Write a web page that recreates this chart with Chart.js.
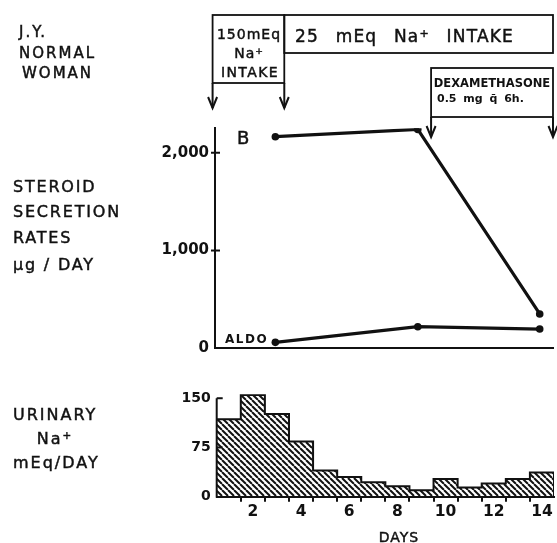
<!DOCTYPE html>
<html><head><meta charset="utf-8">
<script src="https://cdn.jsdelivr.net/npm/chart.js@4.4.1/dist/chart.umd.min.js"></script>
<style>
html,body{margin:0;padding:0;background:#fff;}
#wrap{position:relative;width:557px;height:543px;overflow:hidden;font-family:"DejaVu Sans",sans-serif;color:#111;}
canvas{position:absolute;left:0;}
.t{position:absolute;white-space:nowrap;line-height:1;transform:translateY(-50%);-webkit-text-stroke:0.45px #111;}
.c{transform:translate(-50%,-50%);}
sup{font-size:0.65em;vertical-align:0.45em;line-height:0;}
</style></head><body>
<div id="wrap">
<canvas id="c1" width="557" height="370" style="top:0"></canvas>
<canvas id="c2" width="557" height="173" style="top:370px"></canvas>

<div class="t" style="left:19px;top:32px;font-size:15px;letter-spacing:2px">J.Y.</div>
<div class="t" style="left:19px;top:53px;font-size:15px;letter-spacing:2px">NORMAL</div>
<div class="t" style="left:22px;top:73px;font-size:15px;letter-spacing:2px">WOMAN</div>

<div class="t c" style="left:249px;top:34px;font-size:14px;letter-spacing:1px">150mEq</div>
<div class="t c" style="left:249px;top:53px;font-size:14px;letter-spacing:1px">Na<sup>+</sup></div>
<div class="t c" style="left:250px;top:72px;font-size:14px;letter-spacing:1.4px">INTAKE</div>
<div class="t" style="left:295px;top:36px;font-size:17px;letter-spacing:1.2px;word-spacing:10px">25 mEq Na<sup>+</sup> INTAKE</div>
<div class="t c" style="left:492px;top:84px;font-size:11.5px;font-weight:bold;-webkit-text-stroke:0">DEXAMETHASONE</div>
<div class="t" style="left:437px;top:98px;font-size:11px;font-weight:bold;word-spacing:3px;-webkit-text-stroke:0">0.5 mg q&#772; 6h.</div>

<div class="t" style="left:237px;top:138px;font-size:18px">B</div>
<div class="t" style="left:225px;top:339px;font-size:12px;font-weight:bold;letter-spacing:1.5px;-webkit-text-stroke:0">ALDO</div>

<div class="t" style="left:13px;top:187px;font-size:16px;letter-spacing:1.8px">STEROID</div>
<div class="t" style="left:13px;top:212px;font-size:16px;letter-spacing:1.8px">SECRETION</div>
<div class="t" style="left:13px;top:238px;font-size:16px;letter-spacing:1.8px">RATES</div>
<div class="t" style="left:13px;top:265px;font-size:16px;letter-spacing:1.8px">μg / DAY</div>

<div class="t" style="left:13px;top:415px;font-size:16px;letter-spacing:2px">URINARY</div>
<div class="t c" style="left:55px;top:439px;font-size:16px;letter-spacing:2px">Na<sup>+</sup></div>
<div class="t" style="left:13px;top:463px;font-size:16px;letter-spacing:2px">mEq/DAY</div>

<div class="t c" style="left:399px;top:537px;font-size:14px;letter-spacing:1px">DAYS</div>
</div>
<script>
// ---- data ----
const steroidDays = [3, 8.9, 13.95];
const cortB = [2164, 2239, 351];
const aldo = [61, 221, 197];
const steroidTicks = [0, 1000, 2000];
const steroidTickLabels = ['0', '1,000', '2,000'];

const days = [1,2,3,4,5,6,7,8,9,10,11,12,13,14];
const urinaryNa = [118,155,126,84,40,30,22,16,10,27,14,20,27,37];
const urinaryTicks = [0, 75, 150];
const dayTickLabels = [2,4,6,8,10,12,14];

// annotation day positions (phase boundaries)
const intakeArrowDays = [0.4, 3.37];
const dexArrowDays = [9.45, 14.5];

const INK = '#111';
const FONT = '"DejaVu Sans", sans-serif';

function makeHatch() {
  const s = 6;
  const c = document.createElement('canvas');
  c.width = s; c.height = s;
  const g = c.getContext('2d');
  g.strokeStyle = INK; g.lineWidth = 2;
  for (const x0 of [-s, 0, s]) {
    g.beginPath(); g.moveTo(x0, 0); g.lineTo(x0 + s, s); g.stroke();
  }
  return g.createPattern(c, 'repeat');
}

function arrow(ctx, x, y0, y1) {
  ctx.beginPath(); ctx.moveTo(x, y0); ctx.lineTo(x, y1); ctx.stroke();
  ctx.beginPath(); ctx.moveTo(x - 4.5, y1 - 11); ctx.lineTo(x, y1); ctx.lineTo(x + 4.5, y1 - 11); ctx.stroke();
}

const annotations = {
  id: 'annotations',
  afterDraw(chart) {
    const ctx = chart.ctx, xs = chart.scales.x, ys = chart.scales.y;
    ctx.save();
    ctx.strokeStyle = INK; ctx.lineWidth = 1.8; ctx.lineCap = 'butt';
    const a = xs.getPixelForValue(intakeArrowDays[0]);
    const b = xs.getPixelForValue(intakeArrowDays[1]);
    const d0 = xs.getPixelForValue(dexArrowDays[0]);
    const d1 = xs.getPixelForValue(dexArrowDays[1]);
    ctx.strokeRect(a, 15, b - a, 68);
    ctx.strokeRect(b, 15, d1 - b, 38);
    ctx.strokeRect(d0, 68, d1 - d0, 49);
    ctx.lineWidth = 2;
    arrow(ctx, a, 83, 108);
    arrow(ctx, b, 83, 108);
    arrow(ctx, d0, 117, 137);
    arrow(ctx, d1, 117, 137);
    for (const v of steroidTicks.slice(1)) {
      const y = ys.getPixelForValue(v);
      ctx.beginPath(); ctx.moveTo(chart.chartArea.left - 4, y); ctx.lineTo(chart.chartArea.left + 5, y); ctx.stroke();
    }
    ctx.restore();
  }
};

const lowerAxis = {
  id: 'lowerAxis',
  afterDatasetsDraw(chart) {
    const ctx = chart.ctx, ys = chart.scales.y;
    const L = chart.chartArea.left;
    ctx.save();
    ctx.strokeStyle = INK; ctx.lineWidth = 2;
    ctx.beginPath(); ctx.moveTo(L, ys.getPixelForValue(0) + 1); ctx.lineTo(L, ys.getPixelForValue(150)); ctx.stroke();
    for (const v of urinaryTicks.slice(1)) {
      const y = ys.getPixelForValue(v);
      ctx.beginPath(); ctx.moveTo(L, y); ctx.lineTo(L + 6, y); ctx.stroke();
    }
    ctx.restore();
  }
};

new Chart(document.getElementById('c1'), {
  type: 'line',
  data: {
    datasets: [
      { label: 'B', data: steroidDays.map((d, i) => ({ x: d, y: cortB[i] })) },
      { label: 'ALDO', data: steroidDays.map((d, i) => ({ x: d, y: aldo[i] })) }
    ]
  },
  options: {
    responsive: false, animation: false, devicePixelRatio: 1,
    layout: { padding: { top: 128.3, right: 4, left: 0, bottom: 0 } },
    elements: {
      line: { borderColor: INK, borderWidth: 3.2, tension: 0 },
      point: { radius: 3.8, backgroundColor: INK, borderColor: INK, borderWidth: 0 }
    },
    plugins: { legend: { display: false }, tooltip: { enabled: false } },
    scales: {
      x: {
        type: 'linear', min: 0.5, max: 14.5,
        ticks: { display: false },
        grid: { display: false, drawTicks: false },
        border: { display: true, color: INK, width: 2 },
        afterFit(s) { s.height = 21.7; }
      },
      y: {
        type: 'linear', min: 0, max: 2250,
        afterBuildTicks(s) { s.ticks = steroidTicks.map(v => ({ value: v })); },
        ticks: {
          callback: (v) => steroidTickLabels[steroidTicks.indexOf(v)],
          font: { family: FONT, size: 15, weight: 'bold' }, color: INK, padding: 6
        },
        grid: { display: false, drawTicks: false },
        border: { display: true, color: INK, width: 2 },
        afterFit(s) { s.width = 215; }
      }
    }
  },
  plugins: [annotations]
});

// step outline: each day's value spans [day-0.5, day+0.5]
const stepPts = days.map((d, i) => ({ x: d - 0.5, y: urinaryNa[i] }));
stepPts.push({ x: days[days.length - 1] + 0.5, y: urinaryNa[urinaryNa.length - 1] });
stepPts.push({ x: days[days.length - 1] + 0.5, y: 0 });

const xTickVals = [];
for (let v = 1.5; v <= 14; v += 0.5) xTickVals.push(v);

new Chart(document.getElementById('c2'), {
  type: 'line',
  data: {
    datasets: [{
      label: 'Urinary Na+',
      data: stepPts,
      stepped: 'before',
      fill: 'origin',
      backgroundColor: makeHatch(),
      borderColor: INK, borderWidth: 2,
      pointRadius: 0
    }]
  },
  options: {
    responsive: false, animation: false, devicePixelRatio: 1,
    layout: { padding: { top: 24.3, right: 3, left: 0, bottom: 0 } },
    plugins: { legend: { display: false }, tooltip: { enabled: false } },
    scales: {
      x: {
        type: 'linear', min: 0.5, max: 14.5,
        afterBuildTicks(s) { s.ticks = xTickVals.map(v => ({ value: v })); },
        ticks: {
          autoSkip: false, maxRotation: 0, minRotation: 0,
          callback: (v) => dayTickLabels.includes(v) ? String(v) : '',
          font: { family: FONT, size: 15.5, weight: 'bold' }, color: INK, padding: 1
        },
        grid: {
          display: true, drawOnChartArea: false, drawTicks: true, tickLength: 5, lineWidth: 2,
          tickColor: (c) => (c.tick && c.tick.value % 1 !== 0) ? INK : 'rgba(0,0,0,0)'
        },
        border: { display: true, color: INK, width: 2 },
        afterFit(s) { s.height = 46.3; }
      },
      y: {
        type: 'linear', min: 0, max: 156,
        afterBuildTicks(s) { s.ticks = urinaryTicks.map(v => ({ value: v })); },
        ticks: { font: { family: FONT, size: 14, weight: 'bold' }, color: INK, padding: 6 },
        grid: { display: false, drawTicks: false },
        border: { display: false },
        afterFit(s) { s.width = 216.7; }
      }
    }
  },
  plugins: [lowerAxis]
});
</script>
</body></html>
